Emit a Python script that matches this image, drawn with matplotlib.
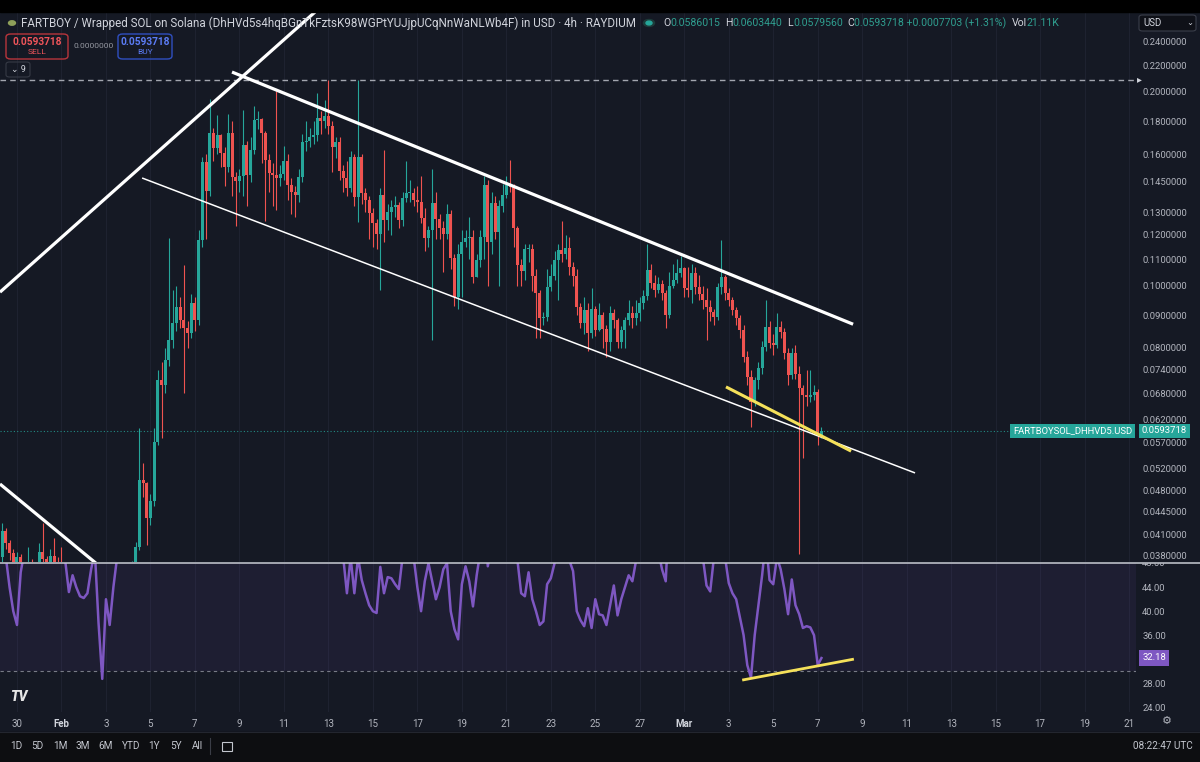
import matplotlib
matplotlib.use("Agg")
import matplotlib.pyplot as plt
import matplotlib.dates as mdates
from matplotlib.patches import Rectangle, FancyBboxPatch, Circle
from matplotlib.lines import Line2D
from matplotlib.ticker import NullLocator, NullFormatter
import numpy as np
import pandas as pd

plt.rcParams["font.family"] = ["Roboto", "DejaVu Sans"]

# ---- data (4h candles) ----
first_time = "2025-01-29 08:00"
first_open = 0.0378

closes = [
    0.0415, 0.0398, 0.0384, 0.0372, 0.0378, 0.0366, 0.0360, 0.0372, 0.0362, 0.0358,
    0.0385, 0.0376, 0.0368, 0.0380, 0.0371, 0.0363, 0.0356, 0.0345, 0.0348, 0.0352,
    0.0346, 0.0341, 0.0344, 0.0340, 0.0350, 0.0345, 0.0330, 0.0312, 0.0326, 0.0320,
    0.0333, 0.0342, 0.0348, 0.0354, 0.0360, 0.0368, 0.0392, 0.0498, 0.0493, 0.0435,
    0.0462, 0.0571, 0.0713, 0.0700, 0.0766, 0.0823, 0.0875, 0.0926, 0.0884, 0.0860,
    0.0845, 0.0940, 0.0884, 0.1177, 0.1555, 0.1405, 0.1725, 0.1635, 0.1715, 0.1610,
    0.1530, 0.1725, 0.1475, 0.1455, 0.1480, 0.1655, 0.1485, 0.1625, 0.1810, 0.1815,
    0.1725, 0.1570, 0.1495, 0.1485, 0.1470, 0.1490, 0.1560, 0.1435, 0.1400, 0.1385,
    0.1475, 0.1670, 0.1680, 0.1705, 0.1715, 0.1825, 0.1800, 0.1835, 0.1770, 0.1640,
    0.1670, 0.1510, 0.1470, 0.1420, 0.1585, 0.1375, 0.1585, 0.1395, 0.1360, 0.1295,
    0.1250, 0.1205, 0.1385, 0.1265, 0.1300, 0.1325, 0.1335, 0.1265, 0.1370, 0.1395,
    0.1395, 0.1360, 0.1350, 0.1275, 0.1185, 0.1220, 0.1345, 0.1270, 0.1230, 0.1205,
    0.1290, 0.1105, 0.0960, 0.1120, 0.1170, 0.1185, 0.1190, 0.1030, 0.1095, 0.1190,
    0.1435, 0.1170, 0.1345, 0.1210, 0.1330, 0.1385, 0.1435, 0.1425, 0.1230, 0.1075,
    0.1055, 0.1140, 0.1140, 0.1035, 0.0975, 0.0890, 0.0895, 0.0995, 0.1035, 0.1095,
    0.1135, 0.1120, 0.1145, 0.1070, 0.1035, 0.0926, 0.0875, 0.0916, 0.0845, 0.0920,
    0.0853, 0.0900, 0.0855, 0.0817, 0.0906, 0.0884, 0.0817, 0.0853, 0.0884, 0.0906,
    0.0891, 0.0906, 0.0940, 0.0962, 0.1058, 0.1010, 0.0985, 0.1005, 0.0975, 0.0900,
    0.1000, 0.1020, 0.1045, 0.1065, 0.0990, 0.0985, 0.1045, 0.0995, 0.0970, 0.0950,
    0.0926, 0.0910, 0.0893, 0.0995, 0.1030, 0.0975, 0.0950, 0.0916, 0.0890, 0.0853,
    0.0774, 0.0720, 0.0660, 0.0713, 0.0745, 0.0803, 0.0862, 0.0814, 0.0810, 0.0862,
    0.0846, 0.0786, 0.0726, 0.0786, 0.0730, 0.0693, 0.0676, 0.0671, 0.0676, 0.0683,
    0.0586015, 0.0593718,
]

highs = [
    0.0428, 0.0420, 0.0402, 0.0390, 0.0385, 0.0382, 0.0370, 0.0393, 0.0376, 0.0368,
    0.0398, 0.0428, 0.0380, 0.0390, 0.0405, 0.0378, 0.0392, 0.0360, 0.0355, 0.0358,
    0.0356, 0.0350, 0.0350, 0.0348, 0.0362, 0.0360, 0.0348, 0.0334, 0.0330, 0.0330,
    0.0338, 0.0348, 0.0355, 0.0362, 0.0368, 0.0373, 0.0400, 0.0600, 0.0530, 0.0495,
    0.0475, 0.0600, 0.0740, 0.0760, 0.0800, 0.1185, 0.0985, 0.1000, 0.0960, 0.1075,
    0.0880, 0.0970, 0.0960, 0.1220, 0.1585, 0.1600, 0.1950, 0.1760, 0.1840, 0.1720,
    0.1640, 0.1850, 0.1800, 0.1500, 0.1520, 0.1875, 0.1680, 0.1700, 0.1900, 0.1870,
    0.1820, 0.1740, 0.1600, 0.1550, 0.2010, 0.1540, 0.1650, 0.1600, 0.1470, 0.1430,
    0.1520, 0.1720, 0.1800, 0.1760, 0.1800, 0.1990, 0.1870, 0.1940, 0.2090, 0.1800,
    0.1700, 0.1700, 0.1540, 0.1560, 0.1620, 0.1600, 0.2090, 0.1600, 0.1420, 0.1380,
    0.1320, 0.1270, 0.1420, 0.1625, 0.1340, 0.1360, 0.1380, 0.1350, 0.1400, 0.1560,
    0.1460, 0.1420, 0.1430, 0.1480, 0.1320, 0.1240, 0.1520, 0.1400, 0.1290, 0.1260,
    0.1340, 0.1310, 0.1120, 0.1160, 0.1220, 0.1220, 0.1280, 0.1220, 0.1120, 0.1220,
    0.1480, 0.1460, 0.1400, 0.1380, 0.1360, 0.1440, 0.1480, 0.1570, 0.1440, 0.1240,
    0.1100, 0.1160, 0.1160, 0.1160, 0.1060, 0.0985, 0.0910, 0.1060, 0.1080, 0.1130,
    0.1160, 0.1260, 0.1200, 0.1190, 0.1090, 0.1060, 0.0940, 0.0960, 0.0940, 0.0990,
    0.0930, 0.0940, 0.0910, 0.0870, 0.0930, 0.0920, 0.0890, 0.0865, 0.0895, 0.0950,
    0.0930, 0.0950, 0.0960, 0.0985, 0.1160, 0.1080, 0.1040, 0.1030, 0.1020, 0.0985,
    0.1050, 0.1080, 0.1100, 0.1110, 0.1070, 0.1070, 0.1080, 0.1070, 0.1040, 0.1000,
    0.0990, 0.0950, 0.0920, 0.1010, 0.1177, 0.1040, 0.0990, 0.0960, 0.0925, 0.0900,
    0.0870, 0.0790, 0.0740, 0.0720, 0.0760, 0.0820, 0.0950, 0.0880, 0.0840, 0.0906,
    0.0880, 0.0860, 0.0800, 0.0800, 0.0808, 0.0750, 0.0700, 0.0740, 0.0740, 0.0700,
    0.0690, 0.0603440,
]

lows = [
    0.0372, 0.0390, 0.0375, 0.0362, 0.0365, 0.0358, 0.0352, 0.0356, 0.0355, 0.0350,
    0.0355, 0.0370, 0.0360, 0.0364, 0.0366, 0.0358, 0.0350, 0.0340, 0.0338, 0.0343,
    0.0340, 0.0335, 0.0336, 0.0334, 0.0338, 0.0338, 0.0325, 0.0305, 0.0306, 0.0315,
    0.0318, 0.0330, 0.0338, 0.0344, 0.0350, 0.0356, 0.0365, 0.0388, 0.0470, 0.0395,
    0.0425, 0.0455, 0.0565, 0.0580, 0.0680, 0.0750, 0.0800, 0.0850, 0.0860, 0.0680,
    0.0800, 0.0830, 0.0850, 0.0870, 0.1150, 0.1180, 0.1380, 0.1560, 0.1600, 0.1530,
    0.1430, 0.1500, 0.1380, 0.1240, 0.1400, 0.1380, 0.1330, 0.1450, 0.1600, 0.1750,
    0.1550, 0.1260, 0.1400, 0.1330, 0.1310, 0.1430, 0.1460, 0.1360, 0.1290, 0.1280,
    0.1350, 0.1450, 0.1620, 0.1640, 0.1660, 0.1680, 0.1720, 0.1760, 0.1720, 0.1500,
    0.1580, 0.1460, 0.1400, 0.1380, 0.1400, 0.1330, 0.1255, 0.1340, 0.1300, 0.1180,
    0.1150, 0.1140, 0.0985, 0.1170, 0.1220, 0.1200, 0.1280, 0.1230, 0.1240, 0.1350,
    0.1350, 0.1330, 0.1300, 0.1250, 0.1130, 0.1150, 0.0823, 0.1180, 0.1180, 0.1050,
    0.1180, 0.1060, 0.0930, 0.0920, 0.0960, 0.1150, 0.1100, 0.1010, 0.1030, 0.1070,
    0.1100, 0.1000, 0.1120, 0.1180, 0.1000, 0.1300, 0.1370, 0.1400, 0.1150, 0.1000,
    0.1000, 0.1020, 0.1090, 0.0980, 0.0830, 0.0830, 0.0870, 0.0880, 0.0980, 0.1020,
    0.0950, 0.1090, 0.1100, 0.1040, 0.1000, 0.0900, 0.0860, 0.0840, 0.0790, 0.0830,
    0.0835, 0.0850, 0.0800, 0.0775, 0.0790, 0.0860, 0.0800, 0.0800, 0.0800, 0.0870,
    0.0860, 0.0870, 0.0880, 0.0920, 0.0950, 0.0990, 0.0960, 0.0975, 0.0950, 0.0860,
    0.0890, 0.0990, 0.1010, 0.1030, 0.0960, 0.0960, 0.0940, 0.0970, 0.0950, 0.0920,
    0.0823, 0.0880, 0.0870, 0.0885, 0.0970, 0.0950, 0.0930, 0.0900, 0.0870, 0.0830,
    0.0760, 0.0700, 0.0603, 0.0650, 0.0690, 0.0730, 0.0790, 0.0800, 0.0780, 0.0800,
    0.0830, 0.0770, 0.0700, 0.0715, 0.0715, 0.0382, 0.0540, 0.0650, 0.0660, 0.0665,
    0.0565, 0.0579560,
]

rsi = [
    52, 49, 44, 40, 37.7, 46.5, 50, 55, 53, 52,
    54, 56, 52, 51, 55, 53, 50, 48.5, 43.2, 46,
    44, 42.5, 42.2, 43, 47, 50, 38, 28.7, 42, 37.7,
    44, 49, 52, 55, 58, 60, 64, 75, 74, 66,
    68, 75, 80, 78, 81, 83, 84, 85, 82, 80,
    79, 82, 78, 85, 89, 78, 82, 78, 79, 73,
    69, 75, 63, 62, 63, 68, 61, 65, 70, 70,
    66, 60, 57, 57, 56, 57, 59, 54, 53, 52,
    56, 62, 62, 63, 63, 66, 65, 66, 63, 57,
    58, 52, 49, 43, 49, 43, 49, 45.2, 43, 41,
    40, 39.7, 47.4, 43, 45.7, 45.5, 44.5, 43.7, 49, 52,
    51, 49, 44, 40, 45, 48, 45, 42, 44, 47,
    48, 40, 37, 35.3, 44.5, 47.5, 45, 40.8, 46, 50,
    56, 47.5, 51, 50, 53, 55, 57, 56, 49, 48.5,
    43, 42.5, 46.5, 42, 40, 37.7, 38.3, 44.5, 45.5, 48,
    51, 50, 51, 48.5, 46.7, 40, 38.5, 37.5, 40.5, 37.2,
    42, 39.5, 39.3, 37.7, 41, 44.3, 39.3, 42, 44, 46,
    45, 48.5, 51, 53, 60, 56, 54, 50, 47, 45,
    58, 60, 62, 63, 53, 52, 58, 52, 50, 49,
    44.3, 43.3, 49, 52, 55, 49, 44.7, 43, 42, 39,
    36, 31, 28.9, 36, 41, 46, 52, 45.2, 44.5, 49,
    47, 43.7, 39.5, 45.3, 41, 39.5, 37.2, 37.5, 37.3, 36,
    31.0, 32.18,
]

# drawings as (time, value) anchors
rise_line = [("2025-01-29 05:40", 0.0977), ("2025-02-12 09:36", 0.2663)]
upper_channel = [("2025-02-08 16:00", 0.2148), ("2025-03-08 14:10", 0.0871)]
lower_channel = [("2025-02-04 15:00", 0.1470), ("2025-03-11 09:00", 0.05115)]
left_fall_line = [("2025-01-29 05:40", 0.04916), ("2025-02-03 15:00", 0.0345)]
yellow_price = [("2025-03-02 21:00", 0.0696), ("2025-03-08 12:00", 0.0553)]
yellow_rsi = [("2025-03-03 14:30", 28.5), ("2025-03-08 15:00", 32.0)]
hline_price = 0.2088
last_price = 0.0593718
last_rsi = 32.18

price_ticks = [0.24, 0.22, 0.20, 0.18, 0.16, 0.145, 0.13, 0.12, 0.11, 0.10, 0.09,
               0.08, 0.074, 0.068, 0.062, 0.057, 0.052, 0.048, 0.0445, 0.041, 0.038]
rsi_ticks = [24, 28, 36, 40, 44]
date_ticks = ["2025-01-30", "2025-02-01", "2025-02-03", "2025-02-05", "2025-02-07",
              "2025-02-09", "2025-02-11", "2025-02-13", "2025-02-15", "2025-02-17",
              "2025-02-19", "2025-02-21", "2025-02-23", "2025-02-25", "2025-02-27",
              "2025-03-01", "2025-03-03", "2025-03-05", "2025-03-07", "2025-03-09",
              "2025-03-11", "2025-03-13", "2025-03-15", "2025-03-17", "2025-03-19",
              "2025-03-21"]
date_labels = ["30", "Feb", "3", "5", "7", "9", "11", "13", "15", "17", "19", "21",
               "23", "25", "27", "Mar", "3", "5", "7", "9", "11", "13", "15", "17",
               "19", "21"]
ohlc = [("O", "0.0586015"), ("H", "0.0603440"), ("L", "0.0579560"),
        ("C", "0.0593718 +0.0007703 (+1.31%)"), ("Vol", "21.11K")]
range_buttons = ["1D", "5D", "1M", "3M", "6M", "YTD", "1Y", "5Y", "All"]
x_range = ("2025-01-29 05:40", "2025-03-21 07:25")
price_range = (0.037186, 0.2663)
rsi_range = (23.17, 48.05)

# ---- style ----
W, H = 1200, 762
BG = "#151924"
UP = "#26a69a"
DOWN = "#ef5350"
TXT = "#b2b5be"
GRID = "#1e2230"


def fx(px):
    return px / W


def fy(py):
    return 1 - py / H


def d2n(s):
    return mdates.date2num(pd.Timestamp(s))


def draw_line(a, pts, color, lw):
    a.plot([d2n(p[0]) for p in pts], [p[1] for p in pts], color=color, lw=lw,
           solid_capstyle="butt", zorder=5)


def box(x, y, w, h, ec, lw=1.0, fc="none", r=0.004):
    fig.add_artist(FancyBboxPatch((fx(x), fy(y + h)), w / W, h / H,
                                  boxstyle=f"round,pad=0,rounding_size={r}",
                                  fc=fc, ec=ec, lw=lw, transform=fig.transFigure))


fig = plt.figure(figsize=(12, 7.62), dpi=100, facecolor=BG)
ax = fig.add_axes([0, fy(562), fx(1136), 550 / H])
ax_rsi = fig.add_axes([0, fy(712), fx(1136), 149 / H])

times = pd.date_range(first_time, periods=len(closes), freq="4h")
xs = mdates.date2num(times)
c = np.array(closes)
o = np.array([first_open] + closes[:-1])
cols = np.where(c >= o, UP, DOWN)

for a in (ax, ax_rsi):
    a.set_facecolor(BG)
    for s in a.spines.values():
        s.set_visible(False)
    a.set_xlim(d2n(x_range[0]), d2n(x_range[1]))
    a.set_xticks([d2n(d) for d in date_ticks])
    a.grid(axis="x", color=GRID, lw=0.8)
    a.set_axisbelow(True)

# price pane
ax.set_yscale("log")
ax.vlines(xs, lows, highs, colors=cols, lw=0.8, zorder=2)
lo = np.minimum(o, c)
hi = np.maximum(np.maximum(o, c), lo * 1.004)
ax.bar(xs, hi - lo, bottom=lo, width=0.135, color=cols, lw=0, zorder=3)
ax.set_ylim(*price_range)
ax.yaxis.set_minor_locator(NullLocator())
ax.yaxis.set_minor_formatter(NullFormatter())
ax.yaxis.tick_right()
ax.set_yticks(price_ticks)
ax.set_yticklabels([f"{t:.7f}" for t in price_ticks])
ax.tick_params(axis="y", length=0, pad=4.5, labelsize=6.8, labelcolor=TXT)
ax.tick_params(axis="x", length=0, labelbottom=False)

ax.axhline(hline_price, color="#a3a6af", ls=(0, (4, 3)), lw=1.0, zorder=4)
ax.axhline(last_price, color=UP, ls=(0, (1, 2)), lw=0.8, alpha=0.8, zorder=4)

draw_line(ax, rise_line, "white", 2.3)
draw_line(ax, upper_channel, "white", 2.3)
draw_line(ax, lower_channel, "white", 1.1)
draw_line(ax, left_fall_line, "white", 2.3)
draw_line(ax, yellow_price, "#f5e15a", 2.2)

# rsi pane
ax_rsi.axhspan(30, 70, color="#7e57c2", alpha=0.09, lw=0)
ax_rsi.axhline(30, color="#787b86", ls=(0, (3, 3)), lw=0.8)
ax_rsi.plot(xs, rsi, color="#7e57c2", lw=1.8, zorder=4)
draw_line(ax_rsi, yellow_rsi, "#f5e15a", 2.0)
ax_rsi.set_ylim(*rsi_range)
ax_rsi.yaxis.tick_right()
ax_rsi.set_yticks(rsi_ticks)
ax_rsi.set_yticklabels([f"{t:.2f}" for t in rsi_ticks])
ax_rsi.tick_params(axis="y", length=0, pad=4.5, labelsize=6.8, labelcolor=TXT)
ax_rsi.set_xticklabels(date_labels)
ax_rsi.tick_params(axis="x", length=0, pad=5, labelsize=7, labelcolor=TXT)
for lab in ax_rsi.get_xticklabels():
    if lab.get_text() in ("Feb", "Mar"):
        lab.set_fontweight("bold")
        lab.set_color("#d1d4dc")

# 48.00 label, cut by the pane separator
t48 = fig.text(fx(1142), fy(564), "48.00", color=TXT, fontsize=6.8, va="center")
t48.set_clip_path(Rectangle((fx(1136), 0), fx(64), fy(562.5), transform=fig.transFigure))

# separator and top / bottom bands
fig.add_artist(Line2D([0, 1], [fy(562.5)] * 2, color="#c9ccd4", lw=1.1,
                      transform=fig.transFigure))
fig.add_artist(Rectangle((0, fy(12)), 1, 12 / H, color="black",
                         transform=fig.transFigure))
fig.add_artist(Rectangle((0, 0), 1, 30 / H, color="#0d0e11",
                         transform=fig.transFigure))
fig.add_artist(Line2D([0, 1], [fy(732)] * 2, color="#23262f", lw=0.8,
                      transform=fig.transFigure))

# right-axis value labels
fig.text(fx(1164.5), fy(431), f"{last_price:.7f}", color="white", fontsize=6.8,
         ha="center", va="center", bbox=dict(boxstyle="square,pad=0.3", fc=UP, ec="none"))
fig.text(fx(1132), fy(431), "FARTBOYSOL_DHHVD5.USD", color="white", fontsize=6.8,
         ha="right", va="center", bbox=dict(boxstyle="square,pad=0.3", fc=UP, ec="none"))
fig.text(fx(1154), fy(658), f"{last_rsi:.2f}", color="white", fontsize=6.8,
         ha="center", va="center",
         bbox=dict(boxstyle="square,pad=0.35", fc="#7e57c2", ec="none"))
fig.text(fx(1139), fy(79), "▸", color="#d1d4dc", fontsize=7, ha="center", va="center")

# header line
fig.add_artist(Circle((fx(12), fy(23)), 3.5 / W, color="#8fa05a",
                      transform=fig.transFigure))
fig.text(fx(21), fy(23), "FARTBOY / Wrapped SOL on Solana "
         "(DhHVd5s4hqBGnTkFztsK98WGPtYUJjpUCqNnWaNLWb4F) in USD · 4h · RAYDIUM",
         color="#d1d4dc", fontsize=8.35, va="center")
fig.add_artist(Circle((fx(649), fy(23)), 5.5 / W, color="#1d3b3a",
                      transform=fig.transFigure))
fig.add_artist(Circle((fx(649), fy(23)), 3 / W, color=UP, transform=fig.transFigure))

fig.canvas.draw()
r = fig.canvas.get_renderer()
cur = fx(663)
for key, val in ohlc:
    tk = fig.text(cur, fy(23), key, color="#d1d4dc", fontsize=7.6, va="center")
    cur += tk.get_window_extent(r).width / W
    tv = fig.text(cur, fy(23), val, color="#2f9e8f", fontsize=7.6, va="center")
    cur += tv.get_window_extent(r).width / W + 5 / W

# USD selector
box(1139, 15, 57, 16, "#3a3e4a", lw=0.8, fc="#0f1118", r=0.003)
fig.text(fx(1143), fy(23), "USD", color="#d1d4dc", fontsize=7, va="center")
fig.text(fx(1190), fy(23), "⌄", color="#d1d4dc", fontsize=6, va="center", ha="center")

# sell / buy boxes
box(6, 34, 62, 25, "#b8353c")
fig.text(fx(37), fy(42), "0.0593718", color="#f0555a", fontsize=7.3, ha="center",
         va="center", fontweight="bold")
fig.text(fx(37), fy(52.5), "SELL", color="#f0555a", fontsize=6, ha="center", va="center")
fig.text(fx(73), fy(46), "0.0000000", color="#9598a1", fontsize=6, va="center")
box(118, 34, 54, 25, "#2f4fc0")
fig.text(fx(145), fy(42), "0.0593718", color="#5b7cf5", fontsize=7.3, ha="center",
         va="center", fontweight="bold")
fig.text(fx(145), fy(52.5), "BUY", color="#5b7cf5", fontsize=6, ha="center", va="center")
box(6, 62, 24, 15, "#363a45", lw=0.8, r=0.003)
fig.text(fx(18), fy(69.5), "⌄ 9", color="#d1d4dc", fontsize=6.5, ha="center", va="center")

# logo, settings, toolbar
fig.text(fx(10), fy(697), "TV", color="#e6e6e6", fontsize=10, fontweight="heavy",
         va="center", style="italic")
fig.text(fx(1167), fy(721), "⚙", color=TXT, fontsize=8, ha="center", va="center")
for label, px in zip(range_buttons, [16, 37, 60, 83, 106, 131, 154, 176, 197]):
    fig.text(fx(px), fy(746), label, color="#c3c6ce", fontsize=7.2, ha="center",
             va="center")
fig.add_artist(Line2D([fx(210), fx(210)], [fy(738), fy(754)], color="#3a3d46",
                      lw=0.8, transform=fig.transFigure))
fig.add_artist(Rectangle((fx(222), fy(751)), 10 / W, 9 / H, fc="none", ec="#c3c6ce",
                         lw=0.8, transform=fig.transFigure))
fig.text(fx(1193), fy(746), "08:22:47 UTC", color="#c3c6ce", fontsize=7.2,
         ha="right", va="center")

fig.savefig("out.png", dpi=100, facecolor=BG)
